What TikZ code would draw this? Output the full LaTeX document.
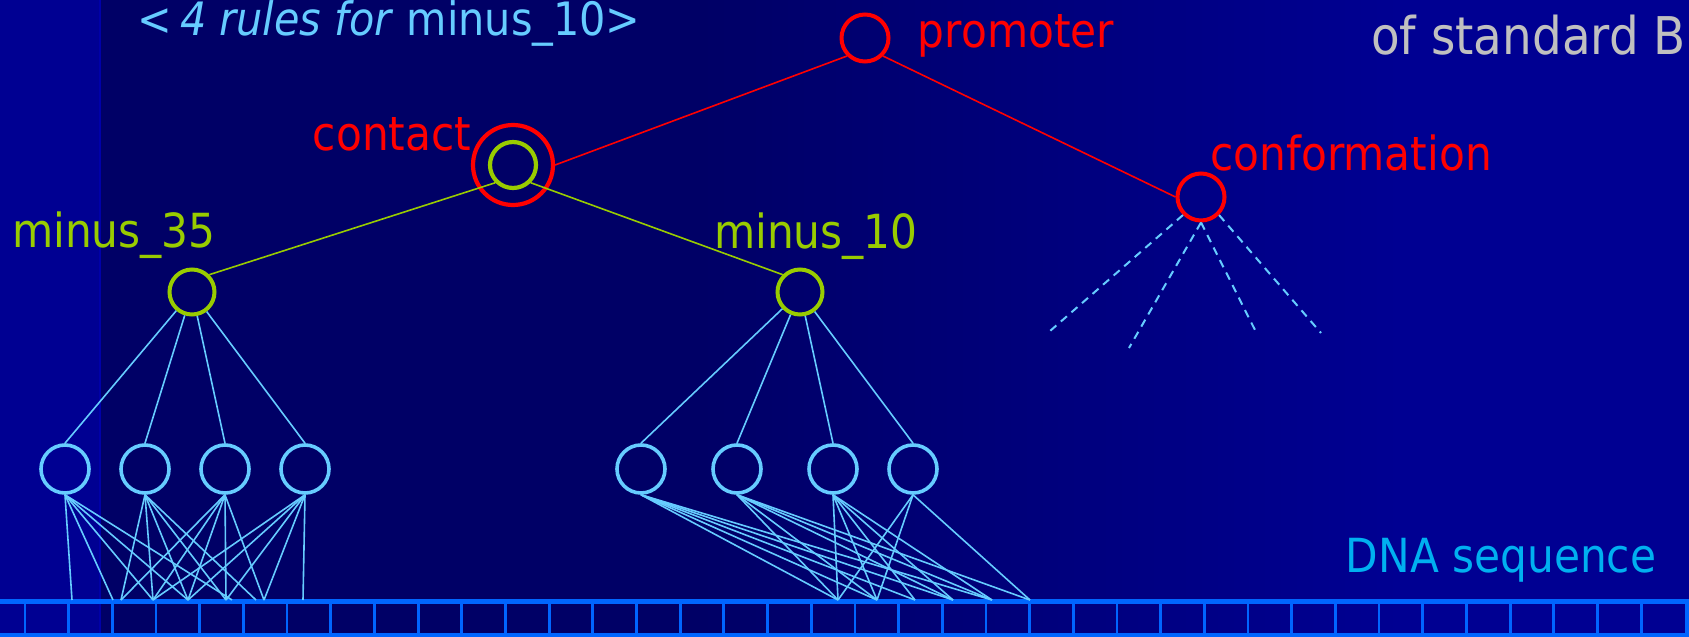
\documentclass[tikz,border=0pt]{standalone}
\usepackage{fontspec}
\setmainfont{DejaVu Sans}[FakeStretch=0.9]
\definecolor{bgl}{RGB}{0,0,146}
\definecolor{bgd}{RGB}{0,0,102}
\definecolor{stripline}{RGB}{0,0,168}
\definecolor{barc}{RGB}{0,102,255}
\definecolor{leafc}{RGB}{102,204,255}
\definecolor{grn}{RGB}{153,204,0}
\definecolor{dnatxt}{RGB}{0,176,240}
\definecolor{gry}{RGB}{192,192,192}
\begin{document}
\begin{tikzpicture}[x=1pt,y=-1pt,
  lbl/.style={anchor=base, inner sep=0, font=\fontsize{47}{56}\selectfont},
  redc/.style={circle, draw=red, line width=4, inner sep=0, minimum size=47},
  grnc/.style={circle, draw=grn, line width=4, inner sep=0, minimum size=45},
  leaf/.style={circle, draw=leafc, line width=3.6, inner sep=0, minimum size=48},
  redl/.style={draw=red, line width=1.6},
  grnl/.style={draw=grn, line width=1.6},
  leafl/.style={draw=leafc, line width=1.6},
  dashl/.style={draw=leafc, line width=2, dash pattern=on 8pt off 6pt},
]
% background
\fill[bgl] (0,0) rectangle (1689,637);
\useasboundingbox (0,0) rectangle (1689,637);
\fill[bgd] (100,0) rectangle (700,637);
\shade[left color=bgd, right color=bgl] (700,0) rectangle (1400,637);
\draw[stripline, line width=2] (100,0) -- (100,637);

% DNA bar
\fill[barc] (0,599) rectangle (1689,604);
\fill[barc] (0,633) rectangle (1689,637);
\fill[barc] (1685,599) rectangle (1689,637);
\foreach \k in {0,...,37} \draw[barc, line width=2.8] ({25+43.68*\k},604) -- ({25+43.68*\k},633);

% nodes
\node[redc] (prom) at (865,38) {};
\node[redc, minimum size=80, line width=4.2] (contact) at (513,165) {};
\node[grnc, minimum size=46, line width=4.2] (inner) at (513,165) {};
\node[redc] (conf) at (1201,197) {};
\node[grnc] (m35) at (192,292) {};
\node[grnc] (m10) at (800,292) {};
\node[leaf] (l1) at (65,469) {};
\node[leaf] (l2) at (145,469) {};
\node[leaf] (l3) at (225,469) {};
\node[leaf] (l4) at (305,469) {};
\node[leaf] (l5) at (641,469) {};
\node[leaf] (l6) at (737,469) {};
\node[leaf] (l7) at (833,469) {};
\node[leaf] (l8) at (913,469) {};

% bar contact points
\foreach \p in {72,113,121,153,188,226,232,256,264,303,838,877,915,953,992,1030}
  \coordinate (b\p) at (\p,600);
% dashed ends
\coordinate (e1) at (1050,331);
\coordinate (e2) at (1129,348);
\coordinate (e3) at (1255,330);
\coordinate (e4) at (1321,333);

% tree connectors
\draw[redl] (contact.east) -- (prom.south west);
\draw[redl] (prom.south east) -- (conf.west);
\draw[grnl] (inner.south west) -- (m35.north east);
\draw[grnl] (inner.south east) -- (m10.north west);
\foreach \l in {l1,l2,l3,l4} \draw[leafl] (m35) -- (\l.north);
\foreach \l in {l5,l6,l7,l8} \draw[leafl] (m10) -- (\l.north);

% leaf to DNA
\foreach \t in {72,113,153,188,232} \draw[leafl] (l1.south) -- (b\t);
\foreach \t in {121,153,188,226,256} \draw[leafl] (l2.south) -- (b\t);
\foreach \t in {121,153,188,226,264} \draw[leafl] (l3.south) -- (b\t);
\foreach \t in {153,188,226,264,303} \draw[leafl] (l4.south) -- (b\t);
\foreach \t in {838,877,915,953,992} \draw[leafl] (l5.south) -- (b\t);
\foreach \t in {838,877,953,992,1030} \draw[leafl] (l6.south) -- (b\t);
\foreach \t in {838,877,915,953,992} \draw[leafl] (l7.south) -- (b\t);
\foreach \t in {838,877,1030} \draw[leafl] (l8.south) -- (b\t);

% dashed
\draw[dashl] (conf.south west) -- (e1);
\draw[dashl] (conf.south) -- (e2);
\draw[dashl] (conf.south) -- (e3);
\draw[dashl] (conf.south east) -- (e4);

% labels
\node[lbl, text=leafc, font=\fontsize{46}{55}\selectfont] (trules) at (389,35) {<\kern8pt\textit{4 rules for} minus\_10>};
\node[lbl, text=red] (tprom) at (1016,47) {promoter};
\node[lbl, anchor=base east, text=gry, font=\fontsize{52}{60}\selectfont] (tstd) at (1686,54) {of standard B};
\node[lbl, text=red] (tcont) at (392,150) {contact};
\node[lbl, text=red] (tconf) at (1351,170) {conformation};
\node[lbl, text=grn] (t35) at (114,247) {minus\_35};
\node[lbl, text=grn] (t10) at (816,248) {minus\_10};
\node[lbl, text=dnatxt] (tdna) at (1501,572) {DNA sequence};
\end{tikzpicture}
\end{document}
